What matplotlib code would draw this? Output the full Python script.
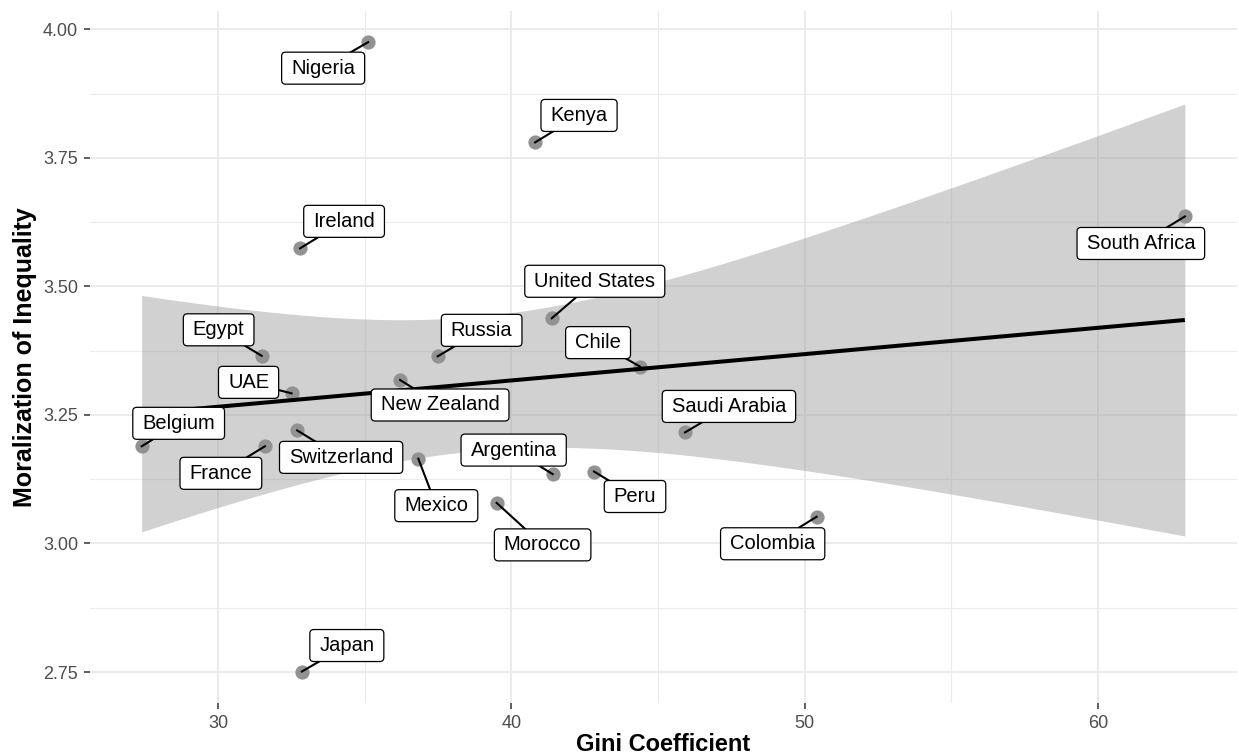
import numpy as np
import matplotlib
matplotlib.use("Agg")
import matplotlib.pyplot as plt
from matplotlib.patches import FancyBboxPatch
from matplotlib.lines import Line2D
from matplotlib.transforms import IdentityTransform
from matplotlib.ticker import MultipleLocator

plt.rcParams['font.family'] = ['Liberation Sans', 'DejaVu Sans']

# ---------------- data ----------------
countries = ["Nigeria", "Kenya", "Ireland", "South Africa", "United States",
             "Egypt", "Russia", "Chile", "New Zealand", "UAE", "Belgium",
             "Saudi Arabia", "Switzerland", "France", "Mexico", "Argentina",
             "Peru", "Morocco", "Colombia", "Japan"]
gini = [35.12, 40.81, 32.80, 62.96, 41.38,
        31.49, 37.49, 44.39, 36.21, 32.51, 27.40,
        45.92, 32.70, 31.60, 36.83, 41.41,
        42.82, 39.50, 50.41, 32.86]
moralization = [3.975, 3.780, 3.574, 3.636, 3.438,
                3.365, 3.364, 3.344, 3.318, 3.292, 3.189,
                3.216, 3.220, 3.189, 3.165, 3.135,
                3.140, 3.079, 3.052, 2.751]
x_ticks = [30, 40, 50, 60]
y_ticks = [2.75, 3.00, 3.25, 3.50, 3.75, 4.00]
y_tick_labels = ["2.75", "3.00", "3.25", "3.50", "3.75", "4.00"]

# label placement (pixel offsets of label centre from point: right, down)
label_offsets = {
    "Nigeria": (-45, 26), "Kenya": (44, -27), "Ireland": (44, -27),
    "South Africa": (-44, 27), "United States": (43, -37), "Egypt": (-43, -26),
    "Russia": (44, -26), "Chile": (-42, -24), "New Zealand": (40, 25),
    "UAE": (-43, -11), "Belgium": (37, -23), "Saudi Arabia": (44, -26),
    "Switzerland": (44, 27), "France": (-44, 27), "Mexico": (18, 47),
    "Argentina": (-39, -24), "Peru": (41, 25), "Morocco": (46, 42),
    "Colombia": (-44, 27), "Japan": (45, -26),
}

# ---------------- figure ----------------
W, H = 1239, 756
fig = plt.figure(figsize=(W / 100, H / 100), dpi=100)
ax = fig.add_axes([89.5 / W, 1 - 703 / H, (1237 - 89.5) / W, (703 - 10.7) / H])

x = np.array(gini)
y = np.array(moralization)

# linear fit with 95% CI (like geom_smooth(method = "lm"))
n = len(x)
slope, intercept = np.polyfit(x, y, 1)
resid = y - (intercept + slope * x)
s = np.sqrt(np.sum(resid ** 2) / (n - 2))
xbar = x.mean()
sxx = np.sum((x - xbar) ** 2)
xs = np.linspace(x.min(), x.max(), 80)
fit = intercept + slope * xs
se = s * np.sqrt(1.0 / n + (xs - xbar) ** 2 / sxx)
tq = 2.100922  # t(0.975, df=18)

ax.fill_between(xs, fit - tq * se, fit + tq * se, color="#999999", alpha=0.45,
                linewidth=0, zorder=2)
ax.scatter(x, y, s=105, color="#929292", linewidths=0, zorder=3)
ax.plot(xs, fit, color="black", lw=2.9, zorder=4, solid_capstyle="butt")

xr = x.max() - x.min()
yr = y.max() - y.min()
ax.set_xlim(x.min() - 0.05 * xr, x.max() + 0.05 * xr)
ax.set_ylim(y.min() - 0.05 * yr, y.max() + 0.05 * yr)

ax.set_xticks(x_ticks)
ax.set_yticks(y_ticks)
ax.set_yticklabels(y_tick_labels)
ax.xaxis.set_minor_locator(MultipleLocator(5))
ax.yaxis.set_minor_locator(MultipleLocator(0.125))
ax.grid(which="major", color="#ebebeb", lw=1.4, zorder=0)
ax.grid(which="minor", color="#ebebeb", lw=0.8, zorder=0)
ax.set_axisbelow(True)
for sp in ax.spines.values():
    sp.set_visible(False)
ax.tick_params(which="major", length=4.3, width=1.1, color="#333333",
               labelcolor="#4d4d4d", labelsize=13, pad=4)
ax.tick_params(which="minor", length=0)

ax.set_xlabel("Gini Coefficient", fontsize=17, fontweight="bold", labelpad=1)
ax.set_ylabel("Moralization of Inequality", fontsize=18, fontweight="bold",
              labelpad=4)

# ---------------- repel-style labels ----------------
fig.canvas.draw()
renderer = fig.canvas.get_renderer()
ident = IdentityTransform()
padx = 9.5
boxh = 32.0
for name, xi, yi in zip(countries, gini, moralization):
    px, py = ax.transData.transform((xi, yi))
    dx, dy = label_offsets[name]
    cx, cy = px + dx, py - dy
    t = ax.text(cx, cy, name, transform=ident, ha="center", va="center",
                fontsize=14.5, color="black", zorder=7)
    ext = t.get_window_extent(renderer)
    w = ext.width + 2 * padx
    hw, hh = w / 2, boxh / 2
    box = FancyBboxPatch((cx - hw, cy - hh), w, boxh,
                         boxstyle="round,pad=0,rounding_size=4",
                         transform=ident, facecolor="white", edgecolor="black",
                         lw=0.9, zorder=6)
    ax.add_artist(box)
    vx, vy = px - cx, py - cy
    tx = hw / abs(vx) if vx != 0 else np.inf
    ty = hh / abs(vy) if vy != 0 else np.inf
    tt = min(tx, ty)
    if tt < 1:
        ex, ey = cx + tt * vx, cy + tt * vy
        seg = Line2D([px, ex], [py, ey], transform=ident, color="black",
                     lw=1.5, zorder=5)
        ax.add_artist(seg)

fig.savefig("out.png", dpi=100)
